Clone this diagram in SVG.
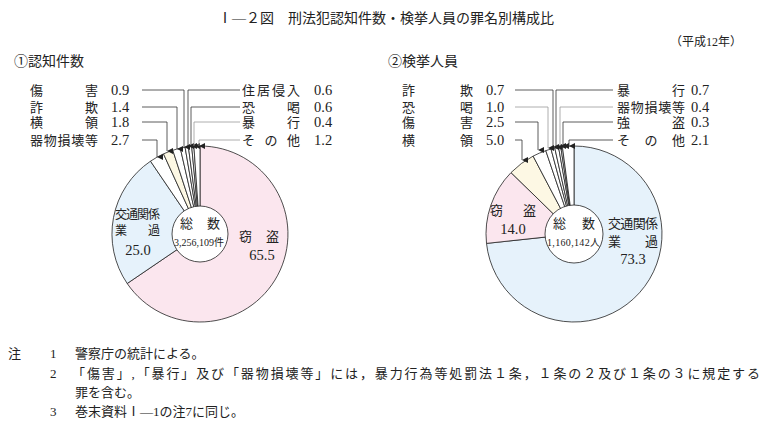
<svg xmlns="http://www.w3.org/2000/svg" width="772" height="436" viewBox="0 0 772 436">
<style>
text{font-family:"Liberation Serif","Noto Sans CJK JP",serif;font-size:13px;fill:#222}
.g{font-family:"Noto Sans CJK JP",sans-serif;font-size:14px}
.n{font-size:14.5px}
.s{font-size:10px}
.w{stroke:#222;stroke-width:0.8;stroke-linejoin:round}
.ld{fill:none;stroke:#333;stroke-width:0.8}
</style>
<defs><marker id="a" viewBox="0 0 6 6" refX="3" refY="6" markerWidth="6" markerHeight="6" orient="auto" markerUnits="userSpaceOnUse"><path d="M0,0 L6,0 L3,6z" fill="#222"/></marker></defs>
<rect width="772" height="436" fill="#fff"/>
<text x="386" y="23" text-anchor="middle" style="font-size:14px">Ⅰ—２図　刑法犯認知件数・検挙人員の罪名別構成比</text>
<text x="742" y="46" text-anchor="end" style="font-size:12px">（平成12年）</text>
<text class="g" x="14" y="66">①認知件数</text>
<text class="g" x="388" y="66">②検挙人員</text>
<g id="pie1">
<path class="w" fill="#fbe6ee" d="M200,234 L200,146 A88,88 0 1 1 127.2,283.5 Z"/>
<path class="w" fill="#e6f2fb" d="M200,234 L127.2,283.5 A88,88 0 0 1 150.5,161.2 Z"/>
<path class="w" fill="#fff" d="M200,234 L150.5,161.2 A88,88 0 0 1 163.5,153.9 Z"/>
<path class="w" fill="#fdf8e4" d="M200,234 L163.5,153.9 A88,88 0 0 1 172.8,150.3 Z"/>
<path class="w" fill="#fff" d="M200,234 L172.8,150.3 A88,88 0 0 1 180.3,148.2 Z"/>
<path class="w" fill="#fff" d="M200,234 L180.3,148.2 A88,88 0 0 1 185.1,147.3 Z"/>
<path class="w" fill="#fff" d="M200,234 L185.1,147.3 A88,88 0 0 1 188.4,146.8 Z"/>
<path class="w" fill="#fff" d="M200,234 L188.4,146.8 A88,88 0 0 1 191.7,146.4 Z"/>
<path class="w" fill="#fff" d="M200,234 L191.7,146.4 A88,88 0 0 1 193.9,146.2 Z"/>
<path class="w" fill="#fff" d="M200,234 L193.9,146.2 A88,88 0 0 1 200,146 Z"/>
<circle class="w" cx="200" cy="234" r="28" fill="#fff"/>
<text x="200" y="228" text-anchor="middle" textLength="40">総　数</text>
<text class="s" x="174" y="246" textLength="50">3,256,109件</text>
<text x="115" y="219" textLength="45" style="font-size:12px">交通関係</text>
<text x="115" y="235" textLength="45" style="font-size:12px">業　　過</text>
<text class="n" x="138" y="255" text-anchor="middle">25.0</text>
<text x="239" y="241" textLength="40">窃　盗</text>
<text class="n" x="262" y="260" text-anchor="middle">65.5</text>
</g>
<g id="pie2">
<path class="w" fill="#e6f2fb" d="M574,234 L574,146 A88,88 0 1 1 486.5,243.4 Z"/>
<path class="w" fill="#fbe6ee" d="M574,234 L486.5,243.4 A88,88 0 0 1 511,172.6 Z"/>
<path class="w" fill="#fdf8e4" d="M574,234 L511,172.6 A88,88 0 0 1 533.1,156.1 Z"/>
<path class="w" fill="#fff" d="M574,234 L533.1,156.1 A88,88 0 0 1 545.8,150.7 Z"/>
<path class="w" fill="#fff" d="M574,234 L545.8,150.7 A88,88 0 0 1 551,149 Z"/>
<path class="w" fill="#fff" d="M574,234 L551,149 A88,88 0 0 1 554.8,148.1 Z"/>
<path class="w" fill="#fff" d="M574,234 L554.8,148.1 A88,88 0 0 1 558.6,147.4 Z"/>
<path class="w" fill="#fff" d="M574,234 L558.6,147.4 A88,88 0 0 1 560.8,147 Z"/>
<path class="w" fill="#fff" d="M574,234 L560.8,147 A88,88 0 0 1 562.4,146.8 Z"/>
<path class="w" fill="#fff" d="M574,234 L562.4,146.8 A88,88 0 0 1 574,146 Z"/>
<circle class="w" cx="574" cy="234" r="29" fill="#fff"/>
<text x="574" y="228" text-anchor="middle" textLength="42">総　数</text>
<text class="s" x="547" y="246" textLength="53">1,160,142人</text>
<text x="490" y="215" textLength="46">窃　盗</text>
<text class="n" x="513" y="234" text-anchor="middle">14.0</text>
<text x="608" y="228" textLength="50">交通関係</text>
<text x="608" y="246" textLength="50">業　　過</text>
<text class="n" x="633" y="264" text-anchor="middle">73.3</text>
</g>
<g id="labels">
<text x="30" y="95" textLength="68">傷害</text><text class="n" x="111" y="95">0.9</text>
<text x="30" y="112" textLength="68">詐欺</text><text class="n" x="111" y="112">1.4</text>
<text x="30" y="127" textLength="68">横領</text><text class="n" x="111" y="127">1.8</text>
<text x="30" y="145" textLength="68">器物損壊等</text><text class="n" x="111" y="145">2.7</text>
<text x="242" y="95" textLength="58">住居侵入</text><text class="n" x="314" y="95">0.6</text>
<text x="242" y="112" textLength="58">恐喝</text><text class="n" x="314" y="112">0.6</text>
<text x="242" y="127" textLength="58">暴行</text><text class="n" x="314" y="127">0.4</text>
<text x="242" y="145" textLength="58">その他</text><text class="n" x="314" y="145">1.2</text>
<text x="402" y="95" textLength="71">詐欺</text><text class="n" x="486" y="95">0.7</text>
<text x="402" y="112" textLength="71">恐喝</text><text class="n" x="486" y="112">1.0</text>
<text x="402" y="127" textLength="71">傷害</text><text class="n" x="486" y="127">2.5</text>
<text x="402" y="145" textLength="71">横領</text><text class="n" x="486" y="145">5.0</text>
<text x="617" y="95" textLength="68">暴行</text><text class="n" x="691" y="95">0.7</text>
<text x="617" y="112" textLength="68">器物損壊等</text><text class="n" x="691" y="112">0.4</text>
<text x="617" y="127" textLength="68">強盗</text><text class="n" x="691" y="127">0.3</text>
<text x="617" y="145" textLength="68">その他</text><text class="n" x="691" y="145">2.1</text>
</g>
<g id="connectors" class="ld">
<path marker-end="url(#a)" d="M142,90 H184 V147"/>
<path marker-end="url(#a)" d="M142,107 H177 V149"/>
<path marker-end="url(#a)" d="M142,122 H167 V151"/>
<path marker-end="url(#a)" d="M142,140 H157 V157"/>
<path marker-end="url(#a)" d="M240,90 H188 V146"/>
<path marker-end="url(#a)" d="M240,107 H191 V146"/>
<path marker-end="url(#a)" d="M240,122 H194 V146" stroke="#999"/>
<path marker-end="url(#a)" d="M240,140 H199 V146" stroke="#999"/>
<path marker-end="url(#a)" d="M515,90 H553 V147"/>
<path marker-end="url(#a)" d="M515,107 H548 V148" stroke="#999"/>
<path marker-end="url(#a)" d="M515,122 H538 V150"/>
<path marker-end="url(#a)" d="M515,140 H522 V160"/>
<path marker-end="url(#a)" d="M613,90 H556 V147"/>
<path marker-end="url(#a)" d="M613,107 H560 V146" stroke="#999"/>
<path marker-end="url(#a)" d="M613,122 H563 V146"/>
<path marker-end="url(#a)" d="M613,140 H569 V146"/>
</g>
<g id="notes">
<text x="8" y="358">注</text><text x="50" y="358">1</text><text x="75" y="358">警察庁の統計による。</text>
<text x="50" y="378">2</text><text x="72" y="378" textLength="688">「傷害」,「暴行」及び「器物損壊等」には，暴力行為等処罰法１条，１条の２及び１条の３に規定する</text>
<text x="75" y="397">罪を含む。</text>
<text x="50" y="416">3</text><text x="75" y="416">巻末資料Ⅰ—1の注7に同じ。</text>
</g>
</svg>
